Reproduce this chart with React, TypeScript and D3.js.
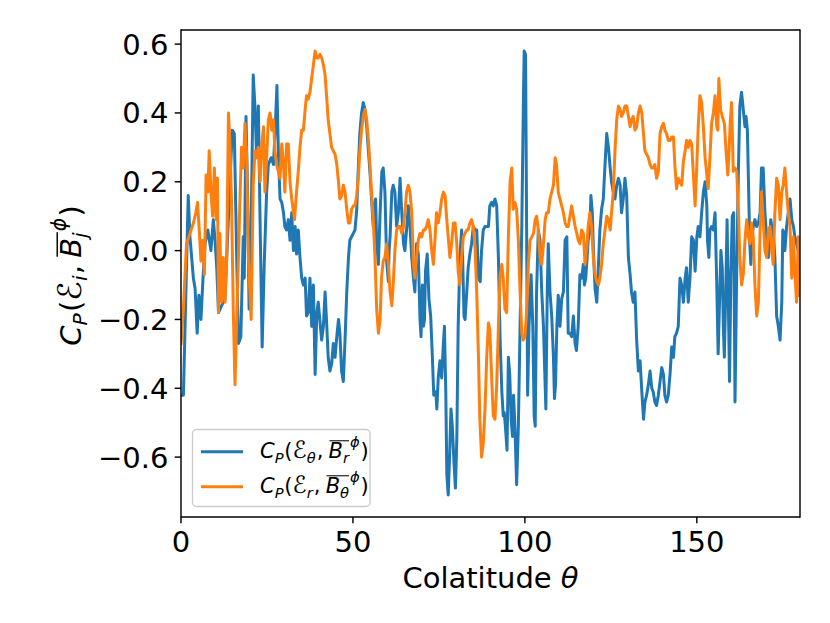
import { useEffect, useRef } from "react";
import * as d3 from "d3";

// correlation profiles: [colatitude, C_P]
const blueSeries: [number, number][] = [
  [0, -0.42], [0.7, -0.42], [2.1, 0.16], [2.6, 0.04], [3.6, -0.08], [4.1, -0.11], [4.7, -0.24], [5.2, -0.13],
  [5.8, -0.2], [6.4, -0.08], [7.0, 0.02], [7.8, 0.06], [8.7, 0.0], [9.4, 0.09], [9.9, 0.03], [10.4, -0.05],
  [10.9, -0.18], [11.8, -0.16], [12.8, -0.14], [13.3, -0.02], [14.2, 0.19], [14.9, 0.35], [15.5, 0.34],
  [16.2, -0.02], [16.7, -0.27], [17.4, -0.25], [18.1, 0.04], [18.4, -0.08], [18.9, 0.39], [19.4, 0.15],
  [19.8, -0.17], [20.4, 0.07], [21.0, 0.51], [21.5, 0.42], [22.0, 0.27], [22.5, 0.42], [23.0, 0.08],
  [23.6, -0.28], [24.2, -0.04], [24.9, 0.17], [25.4, 0.25], [26.2, 0.27], [26.9, 0.25], [27.5, 0.38],
  [27.9, 0.48], [28.3, 0.29], [28.8, 0.15], [29.3, 0.14], [29.8, 0.11], [30.2, 0.07], [30.7, 0.06],
  [31.2, 0.09], [31.7, 0.03], [32.2, 0.11], [32.7, 0.0], [33.2, 0.07], [33.6, -0.01], [34.1, 0.06],
  [34.6, -0.02], [35.1, -0.08], [35.6, -0.1], [36.1, -0.08], [36.5, -0.19], [37.0, -0.18], [37.5, -0.08],
  [38.0, -0.22], [38.5, -0.1], [39.0, -0.36], [39.5, -0.18], [39.9, -0.15], [40.9, -0.26], [41.4, -0.22],
  [41.9, -0.12], [42.4, -0.22], [42.8, -0.31], [43.3, -0.35], [43.8, -0.33], [44.3, -0.27], [44.8, -0.31],
  [45.3, -0.25], [45.8, -0.2], [46.2, -0.24], [46.7, -0.35], [47.2, -0.38], [47.7, -0.26], [48.2, -0.12],
  [48.7, -0.02], [49.1, 0.03], [50.1, 0.05], [50.6, 0.06], [51.1, 0.12], [51.6, 0.25], [52.0, 0.34],
  [52.5, 0.4], [53.0, 0.43], [53.5, 0.41], [54.0, 0.36], [54.5, 0.29], [55.0, 0.22], [55.4, 0.15],
  [55.9, 0.07], [56.2, 0.13], [56.6, 0.15], [56.9, 0.02], [57.4, -0.04], [57.9, 0.11], [58.4, 0.23],
  [58.8, 0.24], [59.3, 0.17], [59.8, -0.03], [60.3, -0.09], [60.5, 0.0], [60.8, 0.04], [61.3, 0.17],
  [61.7, 0.19], [62.2, 0.17], [62.7, 0.07], [63.2, 0.11], [63.7, 0.21], [64.2, 0.11], [64.7, 0.02],
  [65.1, 0.0], [65.6, 0.06], [66.1, 0.13], [66.6, 0.07], [67.1, -0.02], [67.6, -0.08], [68.0, -0.12],
  [68.5, 0.02], [69.0, -0.01], [69.5, -0.2], [69.8, -0.25], [70.2, -0.1], [70.5, -0.22], [70.8, -0.2],
  [71.1, -0.06], [71.6, -0.01], [72.1, -0.14], [72.6, -0.19], [73.1, -0.31], [73.5, -0.42], [74.1, -0.41],
  [74.4, -0.46], [74.8, -0.37], [75.3, -0.32], [75.8, -0.37], [76.3, -0.27], [76.6, -0.22], [77.0, -0.41],
  [77.3, -0.65], [77.7, -0.71], [78.1, -0.6], [78.5, -0.46], [78.9, -0.51], [79.4, -0.62], [79.8, -0.69],
  [80.2, -0.55], [80.6, -0.22], [81.1, -0.02], [81.6, 0.06], [81.9, -0.02], [82.3, -0.19], [82.6, -0.2],
  [83.1, -0.12], [83.5, -0.05], [84.0, -0.01], [84.5, 0.02], [85.0, 0.07], [85.5, 0.06], [86.0, 0.06],
  [86.5, -0.08], [87.0, -0.09], [87.4, 0.0], [87.9, 0.06], [88.4, 0.07], [89.4, 0.07], [89.8, 0.13],
  [90.3, 0.14], [90.8, 0.13], [91.3, 0.15], [91.8, 0.13], [92.3, -0.02], [92.8, -0.26], [93.3, -0.41],
  [93.7, -0.48], [94.0, -0.47], [94.4, -0.52], [94.8, -0.58], [95.2, -0.31], [95.6, -0.36], [96.0, -0.49],
  [96.4, -0.54], [96.7, -0.42], [97.1, -0.51], [97.6, -0.68], [98.1, -0.51], [98.6, -0.22], [99.1, 0.07],
  [99.6, 0.46], [99.8, 0.58], [100.2, 0.57], [100.5, 0.07], [100.8, -0.42], [101.2, -0.22], [101.8, -0.07],
  [102.3, -0.22], [102.7, -0.48], [103.0, -0.51], [103.4, -0.12], [103.9, 0.06], [104.4, 0.03],
  [104.9, -0.12], [105.4, -0.22], [105.8, -0.36], [106.1, -0.46], [106.5, -0.12], [106.8, 0.02],
  [107.3, -0.12], [107.8, -0.19], [108.3, -0.31], [108.6, -0.43], [108.9, -0.39], [109.3, -0.22],
  [109.7, -0.13], [110.2, -0.22], [110.7, -0.14], [111.2, -0.12], [111.7, 0.03], [112.2, 0.04],
  [112.6, -0.24], [113.1, -0.24], [113.6, -0.25], [114.1, -0.19], [114.6, -0.27], [115.0, -0.29],
  [115.5, -0.22], [116.0, -0.07], [116.5, -0.08], [117.0, -0.04], [117.3, -0.1], [117.7, -0.08],
  [118.1, -0.02], [118.4, 0.03], [118.9, 0.06], [119.2, 0.16], [119.6, 0.11], [120.0, -0.02], [120.4, -0.11],
  [120.9, -0.15], [121.4, -0.04], [121.8, 0.06], [122.3, 0.12], [122.8, 0.15], [123.3, 0.25], [123.8, 0.34],
  [124.3, 0.3], [124.8, 0.24], [125.2, 0.2], [125.7, 0.17], [126.2, 0.15], [126.7, 0.19], [127.2, 0.21],
  [127.7, 0.19], [128.1, 0.11], [128.6, 0.15], [129.1, 0.21], [129.6, 0.16], [130.1, -0.02], [130.6, -0.07],
  [131.0, -0.12], [131.5, -0.15], [132.0, -0.12], [132.5, -0.26], [133.0, -0.35], [133.5, -0.32],
  [134.0, -0.41], [134.5, -0.49], [134.9, -0.44], [135.4, -0.42], [135.9, -0.39], [136.4, -0.35],
  [136.9, -0.4], [137.3, -0.41], [137.8, -0.44], [138.3, -0.45], [138.8, -0.42], [139.3, -0.38],
  [139.8, -0.34], [140.3, -0.36], [140.7, -0.42], [141.2, -0.44], [141.7, -0.42], [142.2, -0.36],
  [142.7, -0.28], [143.2, -0.31], [143.6, -0.25], [144.1, -0.24], [144.6, -0.22], [145.1, -0.08],
  [145.6, -0.1], [146.1, -0.15], [146.6, -0.08], [147.0, -0.05], [147.5, -0.15], [148.0, -0.08],
  [148.5, 0.04], [149.0, 0.03], [149.5, -0.06], [150.0, 0.04], [150.4, 0.07], [150.9, 0.04], [151.4, 0.11],
  [151.9, 0.17], [152.4, 0.2], [152.9, 0.13], [153.1, 0.03], [153.5, -0.02], [153.8, 0.06], [154.3, 0.07],
  [154.8, 0.06], [155.3, 0.11], [155.8, -0.1], [156.2, -0.3], [156.7, -0.11], [157.0, 0.0], [157.4, -0.05],
  [157.7, -0.22], [158.0, -0.31], [158.4, -0.12], [158.8, 0.09], [159.2, -0.17], [159.5, -0.38],
  [159.9, -0.07], [160.3, 0.1], [160.7, 0.11], [161.1, -0.44], [161.6, -0.06], [162.1, 0.24], [162.5, 0.42],
  [163.0, 0.46], [163.5, 0.41], [164.0, 0.36], [164.3, 0.39], [164.7, 0.35], [165.2, 0.11], [165.4, 0.02],
  [165.7, -0.04], [166.1, 0.04], [166.4, 0.07], [166.9, 0.09], [167.4, 0.07], [167.9, 0.08], [168.4, 0.11],
  [168.8, 0.24], [169.3, 0.24], [169.8, 0.11], [170.3, 0.04], [170.8, -0.02], [171.1, 0.02], [171.5, 0.09],
  [171.8, 0.07], [172.2, 0.06], [172.7, -0.02], [173.2, -0.19], [173.7, -0.22], [174.2, -0.26],
  [174.7, -0.15], [175.0, 0.06], [175.4, 0.05], [175.6, 0.0], [176.1, 0.07], [176.6, 0.11], [177.1, 0.15],
  [177.6, 0.09], [178.1, 0.07], [178.5, 0.04], [179.0, 0.02], [179.5, 0.0], [179.9, -0.04],
];

const orangeSeries: [number, number][] = [
  [0, -0.27], [0.7, -0.17], [1.6, 0.02], [2.6, 0.05], [3.6, 0.08], [4.3, 0.11], [4.8, 0.14], [5.3, 0.06],
  [5.8, -0.03], [6.3, 0.03], [6.8, -0.07], [7.3, 0.22], [7.8, 0.17], [8.2, 0.29], [8.7, 0.17], [9.2, 0.1],
  [9.7, 0.24], [10.2, 0.09], [10.6, 0.21], [10.9, -0.18], [11.3, 0.05], [11.8, -0.15], [12.3, -0.02],
  [12.8, -0.15], [13.3, -0.02], [13.8, 0.4], [14.2, 0.32], [14.7, 0.14], [15.2, -0.17], [15.7, -0.39],
  [16.2, -0.2], [16.7, -0.02], [17.2, 0.17], [17.6, 0.3], [18.1, 0.24], [18.6, 0.37], [19.1, 0.27],
  [19.6, -0.02], [20.4, -0.2], [21.0, 0.19], [21.5, 0.29], [22.0, 0.27], [22.5, 0.3], [23.0, 0.2],
  [23.5, 0.31], [24.0, 0.36], [24.4, 0.17], [24.9, 0.27], [25.4, 0.38], [25.9, 0.4], [26.4, 0.35],
  [26.9, 0.38], [27.3, 0.29], [27.8, 0.25], [28.3, 0.23], [28.8, 0.21], [29.3, 0.31], [29.8, 0.25],
  [30.2, 0.17], [30.7, 0.31], [31.2, 0.31], [31.7, 0.2], [32.2, 0.15], [33.0, 0.09], [33.6, 0.17],
  [34.1, 0.23], [34.6, 0.3], [35.1, 0.35], [35.6, 0.35], [36.1, 0.41], [36.5, 0.45], [37.0, 0.44],
  [37.5, 0.46], [38.0, 0.5], [38.5, 0.54], [39.0, 0.58], [39.5, 0.56], [39.9, 0.56], [40.4, 0.57],
  [40.9, 0.56], [41.4, 0.54], [41.9, 0.51], [42.4, 0.44], [42.8, 0.38], [43.3, 0.34], [43.8, 0.3],
  [44.3, 0.29], [44.8, 0.28], [45.3, 0.25], [45.8, 0.2], [46.2, 0.15], [46.7, 0.16], [47.2, 0.19],
  [47.7, 0.17], [48.2, 0.12], [48.7, 0.08], [49.1, 0.08], [49.6, 0.12], [50.1, 0.13], [50.6, 0.13],
  [51.1, 0.16], [51.6, 0.22], [52.0, 0.29], [52.5, 0.35], [53.0, 0.39], [53.5, 0.41], [54.0, 0.38],
  [54.5, 0.32], [55.0, 0.24], [55.4, 0.17], [55.9, 0.09], [56.4, -0.02], [56.9, -0.17], [57.4, -0.24],
  [57.9, -0.2], [58.3, -0.08], [58.8, -0.03], [59.3, -0.02], [59.8, 0.02], [60.3, -0.04], [60.8, -0.12],
  [61.3, -0.16], [61.7, -0.1], [62.2, 0.0], [62.7, 0.06], [63.2, 0.07], [63.7, 0.07], [64.2, 0.05],
  [64.7, 0.07], [65.1, 0.11], [65.6, 0.17], [66.1, 0.19], [66.6, 0.17], [67.1, 0.11], [67.6, -0.04],
  [68.0, -0.08], [68.5, -0.02], [69.0, 0.03], [69.5, 0.05], [70.0, 0.04], [70.5, 0.06], [70.9, 0.06],
  [71.4, 0.07], [71.9, 0.09], [72.4, 0.06], [72.9, 0.0], [73.4, -0.04], [73.9, 0.04], [74.3, 0.11],
  [74.8, 0.08], [75.3, 0.11], [75.8, 0.15], [76.3, 0.17], [76.8, 0.16], [77.2, 0.1], [77.7, 0.04],
  [78.2, -0.02], [78.7, 0.02], [79.2, 0.08], [79.7, 0.08], [80.2, 0.02], [80.6, -0.06], [81.1, -0.1],
  [81.6, -0.02], [82.1, 0.04], [82.6, 0.05], [83.1, 0.06], [83.5, 0.06], [84.0, 0.08], [84.5, 0.09],
  [85.0, 0.07], [85.5, 0.01], [86.0, -0.12], [86.5, -0.31], [86.9, -0.49], [87.4, -0.6], [87.9, -0.56],
  [88.4, -0.46], [88.9, -0.31], [89.4, -0.21], [89.8, -0.23], [90.3, -0.36], [90.8, -0.48], [91.3, -0.49],
  [91.8, -0.39], [92.3, -0.22], [92.8, -0.07], [93.3, -0.04], [93.7, -0.08], [94.2, -0.17], [94.7, -0.18],
  [95.2, 0.04], [95.7, 0.2], [96.2, 0.24], [96.6, 0.12], [97.1, 0.14], [97.6, 0.12], [98.1, 0.03],
  [98.6, -0.12], [99.1, -0.24], [99.5, -0.26], [100.0, -0.25], [100.5, -0.18], [101.0, -0.04], [101.5, 0.03],
  [102.0, 0.04], [102.5, 0.05], [103.0, 0.09], [103.4, 0.1], [103.9, 0.06], [104.4, -0.02], [104.9, -0.04],
  [105.4, 0.02], [105.9, 0.09], [106.3, 0.11], [106.8, 0.11], [107.3, 0.15], [107.8, 0.17], [108.3, 0.19],
  [108.8, 0.27], [109.2, 0.25], [109.7, 0.17], [110.2, 0.15], [110.7, 0.13], [111.2, 0.11], [111.7, 0.08],
  [112.2, 0.07], [112.6, 0.07], [113.1, 0.1], [113.6, 0.13], [114.1, 0.1], [114.6, 0.07], [115.1, 0.05],
  [115.5, 0.03], [116.0, 0.02], [116.5, 0.06], [117.0, 0.05], [117.5, -0.04], [118.0, 0.01], [118.4, 0.07],
  [118.9, 0.11], [119.4, 0.07], [119.9, -0.02], [120.4, -0.07], [120.9, -0.09], [121.4, -0.1],
  [121.8, -0.08], [122.3, -0.04], [122.8, 0.02], [123.3, 0.06], [123.8, 0.1], [124.3, 0.09], [124.8, 0.06],
  [125.2, 0.11], [125.7, 0.17], [126.2, 0.29], [126.7, 0.38], [127.2, 0.42], [127.7, 0.41], [128.1, 0.39],
  [128.6, 0.4], [129.1, 0.42], [129.6, 0.42], [130.1, 0.39], [130.6, 0.36], [131.0, 0.38], [131.5, 0.39],
  [132.0, 0.35], [132.5, 0.36], [133.0, 0.4], [133.5, 0.42], [134.0, 0.4], [134.4, 0.35], [134.9, 0.29],
  [135.4, 0.28], [135.9, 0.27], [136.4, 0.25], [136.9, 0.24], [137.3, 0.24], [137.8, 0.25], [138.3, 0.21],
  [138.8, 0.23], [139.3, 0.34], [139.8, 0.36], [140.3, 0.37], [140.7, 0.35], [141.2, 0.34], [141.7, 0.32],
  [142.2, 0.32], [142.7, 0.33], [143.2, 0.33], [143.6, 0.25], [144.1, 0.18], [144.6, 0.21], [145.1, 0.2],
  [145.6, 0.19], [146.1, 0.26], [146.6, 0.29], [147.0, 0.32], [147.5, 0.3], [148.0, 0.32], [148.5, 0.31],
  [149.0, 0.22], [149.5, 0.13], [150.0, 0.25], [150.4, 0.36], [150.9, 0.45], [151.4, 0.43], [151.9, 0.36],
  [152.4, 0.27], [152.9, 0.22], [153.3, 0.18], [153.8, 0.27], [154.3, 0.37], [154.8, 0.4], [155.3, 0.45],
  [155.8, 0.36], [156.1, 0.35], [156.4, 0.5], [156.9, 0.41], [157.4, 0.39], [158.0, 0.37], [158.5, 0.29],
  [159.0, 0.22], [159.3, 0.27], [159.7, 0.37], [160.1, 0.43], [160.6, 0.23], [161.1, 0.24], [161.6, 0.23],
  [162.1, 0.11], [162.5, -0.02], [163.0, -0.1], [163.5, -0.07], [164.0, 0.03], [164.5, 0.09], [165.0, 0.04],
  [165.5, 0.02], [165.9, 0.08], [166.4, 0.04], [166.9, -0.1], [167.4, -0.19], [167.9, -0.15], [168.4, 0.06],
  [168.8, 0.17], [169.3, 0.09], [169.8, 0.0], [170.3, -0.02], [170.8, 0.06], [171.3, 0.07], [171.8, 0.0],
  [172.2, -0.04], [172.7, 0.11], [173.2, 0.21], [173.7, 0.19], [174.2, 0.09], [174.7, 0.17], [175.1, 0.19],
  [175.6, 0.24], [176.1, 0.17], [176.6, 0.11], [177.1, 0.07], [177.6, -0.08], [178.1, 0.04], [178.5, -0.06],
  [179.0, -0.15], [179.5, 0.04], [179.9, -0.13],
];

const xTicks = [0, 50, 100, 150];
const yTicks = [-0.6, -0.4, -0.2, 0.0, 0.2, 0.4, 0.6];
const xDomain: [number, number] = [0, 180];
const yDomain: [number, number] = [-0.774, 0.641];
const seriesColors = ["#1f77b4", "#ff7f0e"];

type Part = { t: string; it?: boolean; sub?: boolean; sup?: boolean; over?: boolean; high?: boolean; gap?: number; big?: boolean };

const yLabelParts: Part[] = [
  { t: "C", it: true }, { t: "P", it: true, sub: true }, { t: "(" }, { t: "ℰ", big: true }, { t: "i", it: true, sub: true },
  { t: ",", gap: 0.25 }, { t: "B", it: true, over: true }, { t: "j", it: true, sub: true, over: true },
  { t: "ϕ", it: true, sup: true, high: true }, { t: ")" },
];
const legendParts: Part[][] = [
  [
    { t: "C", it: true }, { t: "P", it: true, sub: true }, { t: "(" }, { t: "ℰ", big: true }, { t: "θ", it: true, sub: true },
    { t: ",", gap: 0.25 }, { t: "B", it: true, over: true }, { t: "r", it: true, sub: true, over: true },
    { t: "ϕ", it: true, sup: true, high: true }, { t: ")" },
  ],
  [
    { t: "C", it: true }, { t: "P", it: true, sub: true }, { t: "(" }, { t: "ℰ", big: true }, { t: "r", it: true, sub: true },
    { t: ",", gap: 0.25 }, { t: "B", it: true, over: true }, { t: "θ", it: true, sub: true, over: true },
    { t: "ϕ", it: true, sup: true, high: true }, { t: ")" },
  ],
];

const FONT = "DejaVu Sans, Liberation Sans, sans-serif";

// lays mathtext-like pieces out one after another, returns the total width
function drawMath(g: d3.Selection<SVGGElement, unknown, null, undefined>, parts: Part[], size: number) {
  let x = 0;
  let o0: number | null = null;
  let o1 = 0;
  parts.forEach((p) => {
    const small = p.sub || p.sup;
    const fs = small ? size * 0.7 : p.big ? size * 1.12 : size;
    const dy = p.sub ? size * 0.22 : p.sup ? -size * (p.high ? 0.52 : 0.4) : 0;
    const t = g.append("text")
      .attr("x", x)
      .attr("y", dy)
      .attr("font-size", fs)
      .attr("font-style", p.it ? "italic" : "normal")
      .text(p.t);
    const w = (t.node() as SVGTextElement).getComputedTextLength();
    if (p.over) {
      if (o0 === null) o0 = x;
      o1 = x + w;
    }
    x += w + (p.gap ?? 0) * size + (small ? size * 0.04 : 0);
  });
  if (o0 !== null) {
    g.append("line")
      .attr("x1", o0 + size * 0.04).attr("x2", o1)
      .attr("y1", -size * 0.82).attr("y2", -size * 0.82)
      .attr("stroke", "black").attr("stroke-width", size * 0.05);
  }
  return x;
}

export default function App() {
  const svgRef = useRef<SVGSVGElement | null>(null);

  useEffect(() => {
    const svg = d3.select(svgRef.current);
    svg.selectAll("*").remove();

    const x = d3.scaleLinear().domain(xDomain).range([181, 800]);
    const y = d3.scaleLinear().domain(yDomain).range([517, 30]);
    const tickFs = 29;

    svg.append("defs").append("clipPath").attr("id", "plotclip")
      .append("rect")
      .attr("x", x(xDomain[0])).attr("y", y(yDomain[1]))
      .attr("width", x(xDomain[1]) - x(xDomain[0]))
      .attr("height", y(yDomain[0]) - y(yDomain[1]));

    const line = d3.line<[number, number]>()
      .x((d) => x(d[0]))
      .y((d) => y(d[1]));

    const plot = svg.append("g").attr("clip-path", "url(#plotclip)");
    [blueSeries, orangeSeries].forEach((s, i) => {
      plot.append("path")
        .datum(s)
        .attr("d", line)
        .attr("fill", "none")
        .attr("stroke", seriesColors[i])
        .attr("stroke-width", 3)
        .attr("stroke-linejoin", "round")
        .attr("stroke-linecap", "square");
    });

    // frame
    const frame = svg.append("g").attr("stroke", "black").attr("stroke-width", 1.44);
    const [x0, x1] = [x(xDomain[0]), x(xDomain[1])];
    const [y0, y1] = [y(yDomain[0]), y(yDomain[1])];
    frame.append("line").attr("x1", x0).attr("x2", x0).attr("y1", y0 + 0.7).attr("y2", y1 - 0.7);
    frame.append("line").attr("x1", x1).attr("x2", x1).attr("y1", y0 + 0.7).attr("y2", y1 - 0.7);
    frame.append("line").attr("x1", x0).attr("x2", x1).attr("y1", y0).attr("y2", y0);
    frame.append("line").attr("x1", x0).attr("x2", x1).attr("y1", y1).attr("y2", y1);

    const axes = svg.append("g").attr("font-family", FONT).attr("fill", "black");

    xTicks.forEach((v) => {
      axes.append("line")
        .attr("x1", x(v)).attr("x2", x(v))
        .attr("y1", y0).attr("y2", y0 + 6.3)
        .attr("stroke", "black").attr("stroke-width", 1.44);
      axes.append("text")
        .attr("x", x(v)).attr("y", y0 + 35)
        .attr("text-anchor", "middle")
        .attr("font-size", tickFs)
        .text(String(v));
    });

    const fmt = (v: number) => (v < 0 ? "\u2212" : "") + Math.abs(v).toFixed(1);
    yTicks.forEach((v) => {
      axes.append("line")
        .attr("x1", x0 - 6.3).attr("x2", x0)
        .attr("y1", y(v)).attr("y2", y(v))
        .attr("stroke", "black").attr("stroke-width", 1.44);
      axes.append("text")
        .attr("x", x0 - 12.6).attr("y", y(v) + 10.5)
        .attr("text-anchor", "end")
        .attr("font-size", tickFs)
        .text(fmt(v));
    });

    const xl = axes.append("text")
      .attr("x", (x0 + x1) / 2).attr("y", 588)
      .attr("text-anchor", "middle")
      .attr("font-size", tickFs);
    xl.append("tspan").text("Colatitude ");
    xl.append("tspan").attr("font-style", "italic").text("θ");

    // y label, rotated
    const yl = axes.append("g").attr("transform", `translate(81,${(y0 + y1) / 2 + 2}) rotate(-90)`);
    const ylInner = yl.append("g");
    const wY = drawMath(ylInner, yLabelParts, tickFs);
    ylInner.attr("transform", `translate(${-wY / 2},0)`);

    // legend
    const lfs = 21;
    const leg = svg.append("g").attr("font-family", FONT);
    leg.append("rect")
      .attr("x", 192.5).attr("y", 429.5)
      .attr("width", 177.5).attr("height", 77)
      .attr("rx", 4).attr("ry", 4)
      .attr("fill", "white").attr("fill-opacity", 0.8)
      .attr("stroke", "#cccccc").attr("stroke-width", 1.4);
    legendParts.forEach((parts, i) => {
      const cy = 451.7 + i * 35;
      leg.append("line")
        .attr("x1", 201).attr("x2", 243)
        .attr("y1", cy).attr("y2", cy)
        .attr("stroke", seriesColors[i]).attr("stroke-width", 3);
      const lg = leg.append("g").attr("transform", `translate(260,${cy + 6.3})`);
      drawMath(lg, parts, lfs);
    });
  }, []);

  return (
    <svg
      ref={svgRef}
      width={830}
      height={623}
      style={{ position: "absolute", left: 0, top: 0, background: "white" }}
    />
  );
}
